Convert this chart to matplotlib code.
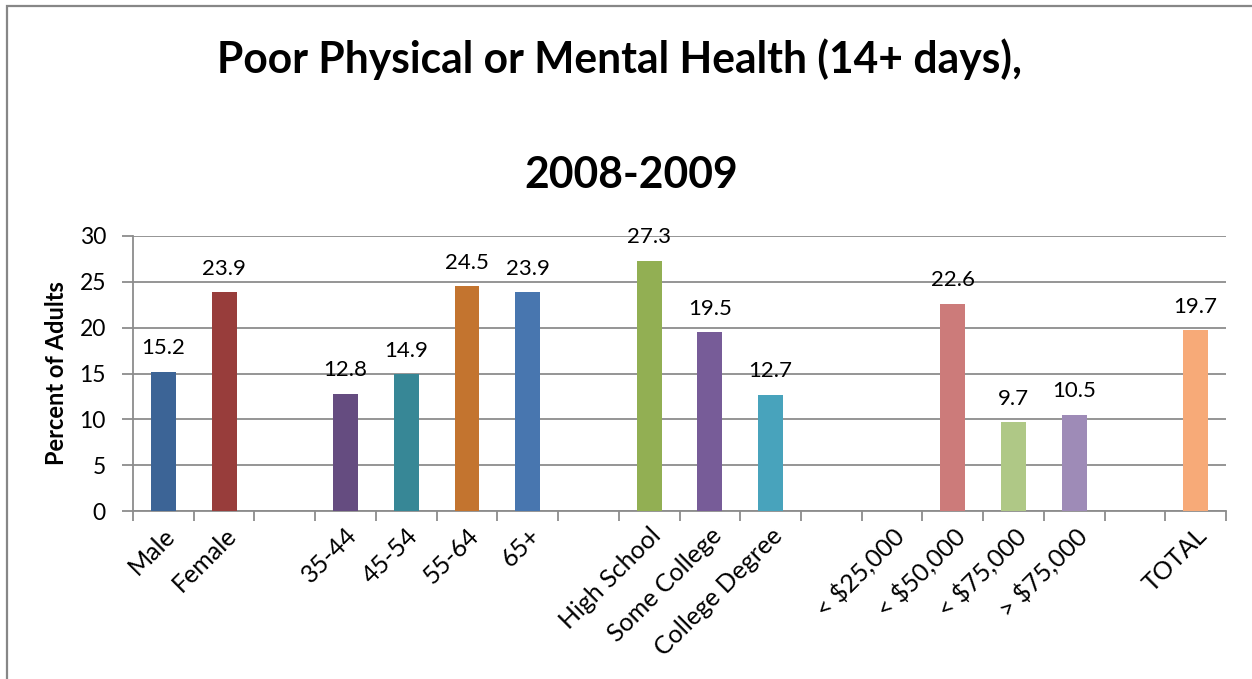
import matplotlib
matplotlib.use("Agg")
import matplotlib.pyplot as plt
from matplotlib.patches import Rectangle
import numpy as np

plt.rcParams["font.family"] = ["Lato", "DejaVu Sans"]

# data: empty strings / None are the spacer slots of the original chart
categories = ["Male", "Female", "", "35-44", "45-54", "55-64", "65+", "",
              "High School", "Some College", "College Degree", "",
              "< $25,000", "< $50,000", "< $75,000", "> $75,000", "", "TOTAL"]
values = [15.2, 23.9, None, 12.8, 14.9, 24.5, 23.9, None,
          27.3, 19.5, 12.7, None,
          None, 22.6, 9.7, 10.5, None, 19.7]
colors = ["#3C6496", "#983D3B", None, "#654C80", "#378796", "#C3742F", "#4876AF", None,
          "#92AF53", "#775C98", "#48A3BC", None,
          None, "#CC7B7A", "#AFC886", "#9E8BB7", None, "#F7AA78"]

W, H = 1252, 679
fig = plt.figure(figsize=(W / 100, H / 100), dpi=100)
ax = fig.add_axes([133 / W, 1 - 511 / H, (1226 - 133) / W, (511 - 236) / H])

grid_c = "#8C8C8C"
x = np.arange(len(categories))
for xi, v, c in zip(x, values, colors):
    if v is None:
        continue
    ax.bar(xi, v, width=0.41, color=c, zorder=3)
    ax.annotate(f"{v:.1f}", (xi, v), xytext=(0, 12.5), textcoords="offset points",
                ha="center", va="baseline", fontsize=16, color="black", zorder=4)

ax.set_xlim(-0.5, len(categories) - 0.5)
ax.set_ylim(0, 30)
ax.set_yticks(np.arange(0, 31, 5))
ax.yaxis.grid(True, color=grid_c, linewidth=1.3, zorder=0)
ax.set_axisbelow(True)

# category boundaries carry the tick marks, labels sit at the centres
ax.set_xticks(np.arange(-0.5, len(categories), 1.0))
ax.set_xticklabels([])
ax.set_xticks(x, minor=True)
ax.set_xticklabels(categories, minor=True, rotation=45, ha="right",
                   rotation_mode="anchor", fontsize=18)
ax.tick_params(axis="x", which="major", length=7, width=1.3, color=grid_c, direction="out")
ax.tick_params(axis="x", which="minor", length=0, pad=9)
ax.tick_params(axis="y", length=8, width=1.3, color=grid_c, labelsize=16.5, pad=11.5)

for side in ["top", "right"]:
    ax.spines[side].set_visible(False)
for side in ["left", "bottom"]:
    ax.spines[side].set_color(grid_c)
    ax.spines[side].set_linewidth(1.3)

ax.set_ylabel("Percent of Adults", fontsize=17, fontweight="bold", labelpad=8)

fig.text(0.495, 1 - 73 / H, "Poor Physical or Mental Health (14+ days),",
         ha="center", va="baseline", fontsize=30.7, fontweight="bold")
fig.text(0.504, 1 - 188 / H, "2008-2009",
         ha="center", va="baseline", fontsize=30.7, fontweight="bold")

# outer chart frame (only left and top edges fall inside the image)
fig.patches.append(Rectangle((6.5 / W, -0.1), 1.2, 1.1 - 6.5 / H, transform=fig.transFigure,
                             fill=False, edgecolor="#878787", linewidth=1.6))

fig.savefig("out.png", dpi=100)
